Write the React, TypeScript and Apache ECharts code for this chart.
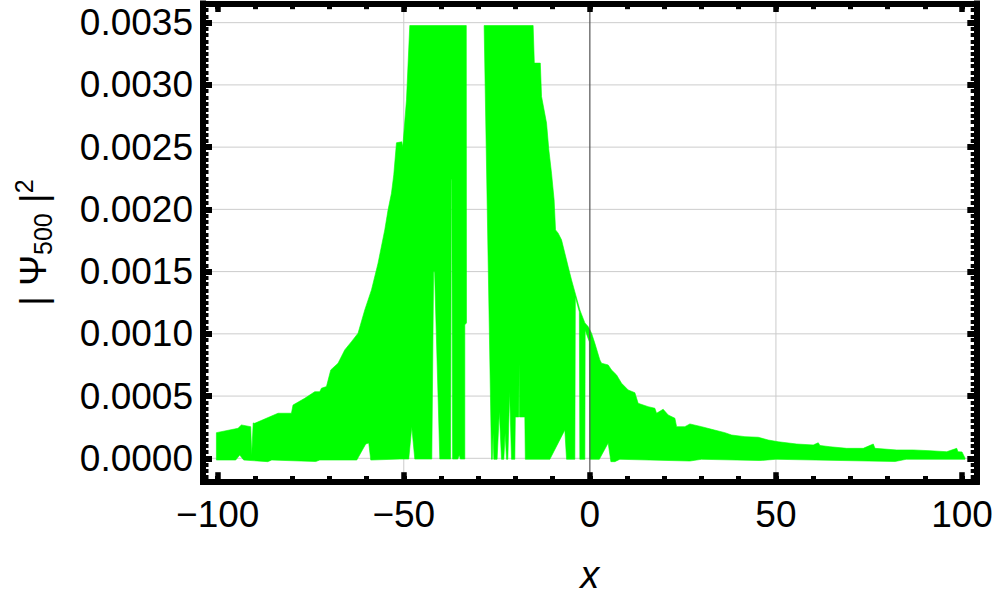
import React, { useEffect, useRef } from 'react';
import * as echarts from 'echarts';

// ---- axis ranges and ticks ----
const X_MIN = -103.95;
const X_MAX = 103.95;
const Y_MIN = -0.000188;
const Y_MAX = 0.003654;
const X_MAJOR = [-100, -50, 0, 50, 100];
const X_MINOR = [-100, -90, -80, -70, -60, -50, -40, -30, -20, -10, 0, 10, 20, 30, 40, 50, 60, 70, 80, 90, 100];
const X_GRID = [-50, 50];
const Y_MAJOR = [0, 0.0005, 0.001, 0.0015, 0.002, 0.0025, 0.003, 0.0035];
const Y_MINOR: number[] = [];
for (let i = -3; i <= 72; i++) Y_MINOR.push(Math.round(i * 5) / 100000);

// ---- |Psi_500|^2 band: upper and lower envelopes, two pieces ----
const SEG_A_UPPER_X = [-100.35, -94.54, -93.63, -91.13, -90.86, -90.46, -90.05, -83.79, -80.19, -79.76, -76.61, -73.92, -72.58, -72.12, -70.78, -69.62, -67.66, -65.86, -64.06, -62.29, -60.48, -58.68, -56.91, -55.11, -54.22, -53.31, -52.69, -51.96, -50.54, -50.27, -49.27, -48.39, -33.2, -33.15, -33.6];
const SEG_A_UPPER_Y = [0.000206, 0.000241, 0.000268, 0.000254, 0.000027, 0.000284, 0.000281, 0.000362, 0.000362, 0.000428, 0.000482, 0.000535, 0.000535, 0.000563, 0.000576, 0.00071, 0.000764, 0.000871, 0.000937, 0.001005, 0.001192, 0.001353, 0.001568, 0.001835, 0.001996, 0.00213, 0.002277, 0.002535, 0.002543, 0.002502, 0.00288, 0.003477, 0.003477, 0.001088, 0.001072];
const SEG_A_LOWER_X = [-100.35, -95.16, -94.09, -93.01, -86.56, -85.48, -73.66, -72.58, -62.63, -60.22, -59.41, -58.87, -51.08, -48.66, -47.85, -47.04, -42.47, -41.99, -41.72, -40.32, -37.42, -37.23, -37.1, -36.88, -35.48, -35.08, -34.81, -33.6];
const SEG_A_LOWER_Y = [-0.000014, -0.000014, 0.000027, -0.000014, -0.000027, -0.000014, -0.000026, -0.000014, -0.000014, 0.000115, 0.000123, -0.000014, -0.000006, -0.000006, 0.000252, -0.000006, -0.000006, 0.001498, 0.001498, -0.000006, -0.000006, 0.002237, 0.002237, -0.000006, -0.000006, 0.000027, -0.000006, -0.000006];

const SEG_B_UPPER_X = [-28.41, -15.24, -14.92, -13.31, -12.98, -11.64, -11.02, -10.3, -9.6, -9.22, -8.52, -7.61, -6.72, -5.83, -4.92, -4.03, -2.69, -1.34, -0.46, 0.46, 1.34, 2.69, 3.15, 4.92, 5.83, 7.18, 8.52, 10.3, 12.1, 12.98, 15.67, 17.47, 17.93, 19.7, 21.05, 22.85, 23.31, 25.54, 26.88, 30.03, 32.72, 36.29, 38.09, 41.67, 45.24, 47.93, 50.62, 55.56, 60.03, 61.37, 61.83, 64.52, 69.01, 73.47, 76.16, 76.61, 82.45, 86.91, 91.4, 95.89, 98.58, 98.92, 100.0, 100.81];
const SEG_B_UPPER_Y = [0.003477, 0.003477, 0.003175, 0.003175, 0.002907, 0.002693, 0.002478, 0.002291, 0.002076, 0.001835, 0.001809, 0.001755, 0.001648, 0.00154, 0.001433, 0.001337, 0.001192, 0.001088, 0.001058, 0.001005, 0.000924, 0.00079, 0.000764, 0.00075, 0.00071, 0.00067, 0.000603, 0.000549, 0.000527, 0.000442, 0.000415, 0.000402, 0.000362, 0.000394, 0.000348, 0.000322, 0.000254, 0.000254, 0.000276, 0.000254, 0.000233, 0.000206, 0.000187, 0.000174, 0.000169, 0.000147, 0.000133, 0.000115, 0.000107, 0.000125, 0.000103, 0.000093, 0.00008, 0.00008, 0.000115, 0.00008, 0.000067, 0.000067, 0.000061, 0.000053, 0.00008, 0.000053, 0.000051, 0.000002];
const SEG_B_LOWER_X = [-26.42, -26.21, -25.99, -25.81, -24.92, -24.33, -23.74, -23.12, -22.77, -22.39, -22.04, -21.56, -21.05, -20.16, -20.03, -19.09, -19.01, -18.9, -17.47, -17.34, -10.75, -6.72, -6.26, -4.03, -3.9, -2.82, -2.69, -1.34, -1.26, -0.13, 0.0, 2.55, 4.92, 5.65, 6.72, 8.06, 26.88, 30.0, 45.7, 50.0, 81.99, 85.0, 100.81];
const SEG_B_LOWER_Y = [-0.000008, -0.000008, 0.000203, -0.000008, -0.000008, 0.000375, -0.000008, -0.000008, 0.000203, -0.000008, -0.000008, 0.000535, -0.000008, -0.000008, 0.000332, 0.000332, 0.000766, 0.000332, 0.000332, -0.000008, -0.000008, 0.000227, -0.000008, -0.000008, 0.001297, 0.001176, -0.000008, -0.000008, 0.001031, 0.000935, -0.000008, -0.000008, 0.000123, -0.000027, -0.000027, -0.000008, -0.000022, -0.000008, -0.000018, -0.000008, -0.000026, -0.000008, -0.000008];

const SEGMENTS = [
  { ux: SEG_A_UPPER_X, uy: SEG_A_UPPER_Y, lx: SEG_A_LOWER_X, ly: SEG_A_LOWER_Y },
  { ux: SEG_B_UPPER_X, uy: SEG_B_UPPER_Y, lx: SEG_B_LOWER_X, ly: SEG_B_LOWER_Y },
];

const FONT = 'Liberation Sans';

function fmtX(v: number) {
  return v < 0 ? '\u2212' + Math.abs(v) : String(v);
}

export default function App() {
  const ref = useRef<HTMLDivElement>(null);
  useEffect(() => {
    if (!ref.current) return;
    const chart = echarts.init(ref.current, undefined, { renderer: 'svg' });

    const frameLine = { show: true, onZero: false, lineStyle: { color: '#000', width: 6, cap: 'square' } };
    const base = { type: 'value', splitLine: { show: false }, z: 5 };
    const xb = { ...base, min: X_MIN, max: X_MAX };
    const yb = { ...base, min: Y_MIN, max: Y_MAX };
    const noLine = { show: false, onZero: false };

    const option: any = {
      animation: false,
      backgroundColor: '#fff',
      grid: { left: 203, right: 20.3, top: 3.5, bottom: 122.3, containLabel: false },
      xAxis: [
        {
          ...xb, position: 'bottom', axisLine: frameLine,
          axisTick: { show: true, inside: true, length: 9.5, lineStyle: { color: '#000', width: 5.5 }, customValues: X_MAJOR },
          axisLabel: { show: true, customValues: X_MAJOR, formatter: fmtX, margin: 14, color: '#000', fontSize: 37, fontFamily: FONT },
          name: 'x', nameLocation: 'middle', nameGap: 74,
          nameTextStyle: { fontStyle: 'italic', fontSize: 38, fontFamily: FONT, color: '#000' },
        },
        {
          ...xb, position: 'bottom', axisLine: noLine,
          axisTick: { show: true, inside: true, length: 5.7, lineStyle: { color: '#000', width: 5 }, customValues: X_MINOR },
          axisLabel: { show: false },
        },
        {
          ...xb, position: 'top', axisLine: frameLine,
          axisTick: { show: true, inside: true, length: 8.5, lineStyle: { color: '#000', width: 5.5 }, customValues: X_MAJOR },
          axisLabel: { show: false },
        },
        {
          ...xb, position: 'top', axisLine: noLine,
          axisTick: { show: true, inside: true, length: 5.7, lineStyle: { color: '#000', width: 5 }, customValues: X_MINOR },
          axisLabel: { show: false },
        },
      ],
      yAxis: [
        {
          ...yb, position: 'left', axisLine: frameLine,
          axisTick: { show: true, inside: true, length: 9, lineStyle: { color: '#000', width: 6 }, customValues: Y_MAJOR },
          axisLabel: { show: true, customValues: Y_MAJOR, formatter: (v: number) => v.toFixed(4), margin: 10, color: '#000', fontSize: 37, fontFamily: FONT },
          name: '{n|| \u03A8}{s|500}{n| |}{p|2}', nameLocation: 'middle', nameRotate: 90, nameGap: 148,
          nameTextStyle: {
            color: '#000', fontFamily: FONT, fontSize: 37,
            rich: {
              n: { fontSize: 37, fontFamily: FONT, color: '#000', lineHeight: 44 },
              s: { fontSize: 25, fontFamily: FONT, color: '#000', lineHeight: 25, verticalAlign: 'bottom' },
              p: { fontSize: 25, fontFamily: FONT, color: '#000', lineHeight: 18, verticalAlign: 'top' },
            },
          },
        },
        {
          ...yb, position: 'left', axisLine: noLine,
          axisTick: { show: true, inside: true, length: 5.5, lineStyle: { color: '#000', width: 4 }, customValues: Y_MINOR },
          axisLabel: { show: false },
        },
        {
          ...yb, position: 'right', axisLine: frameLine,
          axisTick: { show: true, inside: true, length: 9.4, lineStyle: { color: '#000', width: 6 }, customValues: Y_MAJOR },
          axisLabel: { show: false },
        },
        {
          ...yb, position: 'right', axisLine: noLine,
          axisTick: { show: true, inside: true, length: 6, lineStyle: { color: '#000', width: 4 }, customValues: Y_MINOR },
          axisLabel: { show: false },
        },
      ],
      series: [
        {
          type: 'custom', name: 'grid', z: 1, silent: true,
          xAxisIndex: 0, yAxisIndex: 0,
          data: [...Y_MAJOR.map((v) => [1, v]), ...X_GRID.map((v) => [0, v])],
          encode: { x: 0, y: 1 },
          renderItem: (_p: any, api: any) => {
            const kind = api.value(0);
            const v = api.value(1);
            const a = kind === 0 ? api.coord([v, Y_MIN]) : api.coord([X_MIN, v]);
            const b = kind === 0 ? api.coord([v, Y_MAX]) : api.coord([X_MAX, v]);
            return { type: 'line', shape: { x1: a[0], y1: a[1], x2: b[0], y2: b[1] }, style: { stroke: '#cccccc', lineWidth: 1 } };
          },
        },
        {
          type: 'custom', name: 'psi', z: 2, silent: true,
          xAxisIndex: 0, yAxisIndex: 0,
          data: SEGMENTS.map((_, i) => [i, 0]),
          encode: { x: 0, y: 1 },
          renderItem: (_p: any, api: any) => {
            const seg = SEGMENTS[api.value(0)];
            const pts: number[][] = [];
            for (let i = 0; i < seg.ux.length; i++) pts.push(api.coord([seg.ux[i], seg.uy[i]]));
            for (let i = seg.lx.length - 1; i >= 0; i--) pts.push(api.coord([seg.lx[i], seg.ly[i]]));
            return { type: 'polygon', shape: { points: pts }, style: { fill: '#00ff00', stroke: '#00ff00', lineWidth: 0.6 } };
          },
        },
        {
          type: 'custom', name: 'axis0', z: 3, silent: true,
          xAxisIndex: 0, yAxisIndex: 0,
          data: [[0, 0]],
          encode: { x: 0, y: 1 },
          renderItem: (_p: any, api: any) => {
            const a = api.coord([api.value(0), Y_MIN]);
            const b = api.coord([api.value(0), Y_MAX]);
            return { type: 'line', shape: { x1: a[0], y1: a[1], x2: b[0], y2: b[1] }, style: { stroke: '#555555', lineWidth: 1.2 } };
          },
        },
      ],
    };
    chart.setOption(option);
    return () => chart.dispose();
  }, []);
  return <div ref={ref} style={{ position: 'fixed', left: 0, top: 0, width: 997, height: 604 }} />;
}
